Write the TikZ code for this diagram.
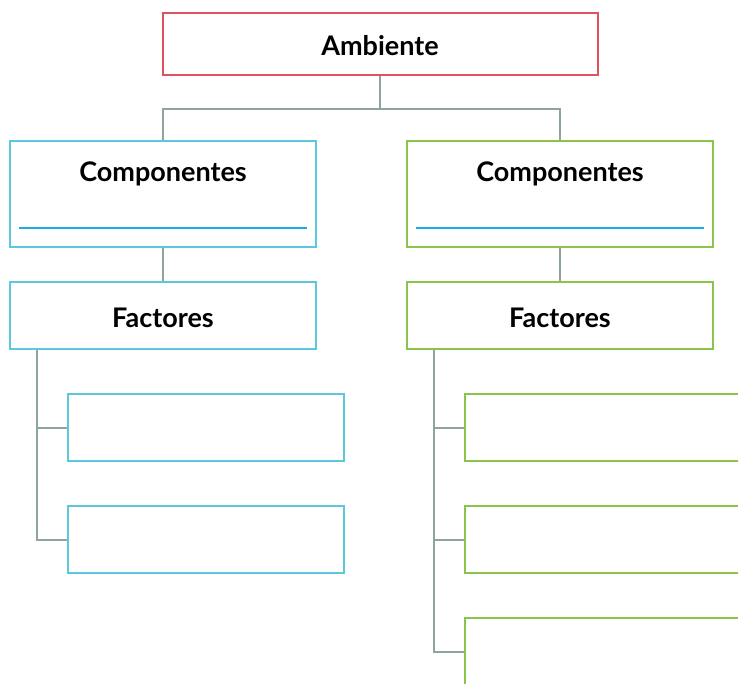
\documentclass[tikz,border=0pt]{standalone}
\usepackage{fontspec}
\setmainfont{Lato}
\usetikzlibrary{trees}

\definecolor{ambred}{HTML}{E0525E}
\definecolor{leftcyan}{HTML}{5BC8DF}
\definecolor{rightgreen}{HTML}{8CC34B}
\definecolor{linkgray}{HTML}{8FA39F}
\definecolor{rulecyan}{HTML}{1AAEE6}

\begin{document}
\begin{tikzpicture}
    [ x=1pt, y=1pt
    , box/.style={draw, line width=2pt, inner sep=0pt, font=\fontsize{27}{32}\selectfont\bfseries}
    , topbox/.style={box, draw=ambred, minimum width=435pt, text height=42pt, text depth=20pt}
    , compbox/.style={box, minimum width=306pt, text height=40pt, text depth=66pt}
    , factbox/.style={box, minimum width=306pt, text height=45pt, text depth=22pt}
    , itembox/.style={box, minimum width=276pt, minimum height=67pt}
    , edge from parent/.style={draw=linkgray, line width=2pt}
    , level 1/.style={grow via three points={one child at (0,-150) and two children at (-217,-150) and (180,-150)},
        edge from parent path={(\tikzparentnode.south) -- ++(0,-33) -| (\tikzchildnode.north)}}
    , level 2/.style={grow=down, level distance=121.5pt,
        edge from parent path={(\tikzparentnode.south) -- (\tikzchildnode.north)}}
    , level 3/.style={grow via three points={one child at (43,-112) and two children at (43,-112) and (43,-224)},
        edge from parent path={([xshift=28pt]\tikzparentnode.south west) |- (\tikzchildnode.west)}}
    ]
\clip (0,0) rectangle (738,-683);
\node[topbox] (amb) at (380,-44) {Ambiente}
    child {node[compbox, draw=leftcyan] (lcomp) {Componentes}
      child {node[factbox, draw=leftcyan] (lfact) {Factores}
        child {node[itembox, draw=leftcyan] (litem1) {}}
        child {node[itembox, draw=leftcyan] (litem2) {}}
      }
      }
    child {node[compbox, draw=rightgreen] (rcomp) {Componentes}
      child {node[factbox, draw=rightgreen] (rfact) {Factores}
        child {node[itembox, draw=rightgreen] (ritem1) {}}
        child {node[itembox, draw=rightgreen] (ritem2) {}}
        child {node[itembox, draw=rightgreen] (ritem3) {}}
      }
    };
% blank line under each heading
\draw[rulecyan, line width=2pt] ([xshift=10pt,yshift=20pt]lcomp.south west) -- ([xshift=-10pt,yshift=20pt]lcomp.south east);
\draw[rulecyan, line width=2pt] ([xshift=10pt,yshift=20pt]rcomp.south west) -- ([xshift=-10pt,yshift=20pt]rcomp.south east);
\end{tikzpicture}
\end{document}
